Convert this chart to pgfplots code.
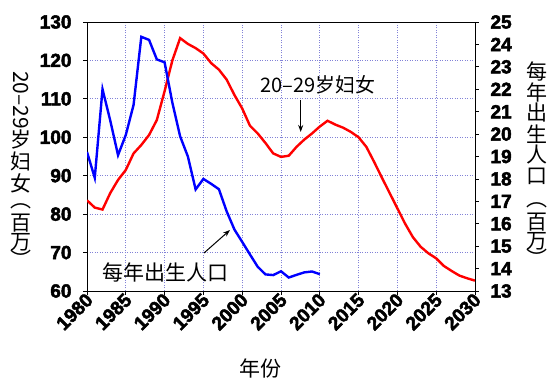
\documentclass[border=0pt]{standalone}
\usepackage{fontspec}
\setmainfont{Liberation Sans}
\newfontfamily\heavy{Liberation Sans}[BoldFeatures={FakeBold=2.6}]
\newfontfamily\cjk{Noto Sans CJK SC}
\usepackage{pgfplots}
\usepackage{pgfplotstable}
\pgfplotsset{compat=1.18}
\usetikzlibrary{arrows.meta}
\definecolor{gridc}{RGB}{130,130,215}

\pgfplotstableread{
year women
1980 83.6
1981 81.7
1982 81.2
1983 85.5
1984 88.9
1985 91.5
1986 95.8
1987 98.0
1988 100.6
1989 104.5
1990 112.0
1991 120.0
1992 125.8
1993 124.3
1994 123.2
1995 121.8
1996 119.3
1997 117.6
1998 115.0
1999 111.0
2000 107.5
2001 103.0
2002 101.0
2003 98.5
2004 95.8
2005 94.9
2006 95.2
2007 97.5
2008 99.4
2009 101.0
2010 102.8
2011 104.3
2012 103.3
2013 102.5
2014 101.4
2015 100.0
2016 97.5
2017 93.6
2018 89.5
2019 85.5
2020 81.5
2021 77.5
2022 74.0
2023 71.5
2024 69.8
2025 68.5
2026 66.5
2027 65.2
2028 64.0
2029 63.3
2030 62.7
}\women

\pgfplotstableread{
year births
1980 19.2
1981 18.05
1982 22.0
1983 20.6
1984 19.06
1985 19.96
1986 21.3
1987 24.34
1988 24.2
1989 23.33
1990 23.2
1991 21.4
1992 19.9
1993 19.0
1994 17.53
1995 18.0
1996 17.78
1997 17.54
1998 16.55
1999 15.74
2000 15.19
2001 14.63
2002 14.08
2003 13.74
2004 13.71
2005 13.88
2006 13.6
2007 13.72
2008 13.83
2009 13.87
2010 13.75
}\births

\pgfplotsset{
  common/.style={
    at={(87pt,94pt)}, anchor=south west, scale only axis,
    width=388pt, height=269pt,
    xmin=1980, xmax=2030,
    tick align=outside, major tick length=4pt,
    tick style={black, line width=0.8pt},
    axis line style={black, line width=0.8pt},
    /pgf/number format/assume math mode=true,
    /pgf/number format/1000 sep={},
    tick label style={font=\heavy\bfseries\fontsize{19}{19}\selectfont},
  }
}

\begin{document}
\begin{tikzpicture}[x=1pt,y=1pt]
\begin{axis}[common,
  ymin=60, ymax=130,
  xtick={1980,1985,...,2030}, ytick={60,70,...,130},
  xtick pos=left, ytick pos=left,
  grid=major,
  grid style={gridc, dash pattern=on 1pt off 1.5pt, line width=0.8pt},
  xticklabel style={rotate=45, anchor=east, xshift=4pt, yshift=-3pt},
  yticklabel style={xshift=-8pt},
]
\addplot[red, line width=2.4pt] table[x=year, y=women] {\women};
\end{axis}
\begin{axis}[common,
  ymin=13, ymax=25, ytick={13,14,...,25},
  axis x line=none, axis y line*=right,
  yticklabel style={xshift=8pt},
]
\addplot[blue, line width=2.4pt] table[x=year, y=births] {\births};
\end{axis}

% annotations
\node[font=\cjk\fontsize{20}{20}\selectfont, anchor=center] at (318,300) {20–29岁妇女};
\draw[-{Stealth[length=7pt,width=5pt]}, line width=1pt] (300.7,285) -- (300.7,253);
\node[font=\cjk\fontsize{21}{21}\selectfont, anchor=center] at (165,113) {每年出生人口};
\draw[-{Stealth[length=7pt,width=5pt]}, line width=1pt] (204,132) -- (230,155);

% x label
\node[font=\cjk\fontsize{21}{21}\selectfont] at (260,17) {年份};

% left y label (vertical)
\begin{scope}[every node/.style={font=\cjk\fontsize{21}{21}\selectfont, inner sep=0pt}]
\node[rotate=-90] at (21,285) {20–29};
\node at (21,246) {岁};
\node at (21,224) {妇};
\node at (21,202) {女};
\node at (21,179) {︵};
\node at (21,162) {百};
\node at (21,143) {万};
\node at (21,126) {︶};
% right y label
\node at (537,314) {每};
\node at (537,293) {年};
\node at (537,272) {出};
\node at (537,251) {生};
\node at (537,230) {人};
\node at (537,209) {口};
\node at (537,180) {︵};
\node at (537,163) {百};
\node at (537,144) {万};
\node at (537,127) {︶};
\end{scope}

\pgfresetboundingbox
\path[use as bounding box] (0,0) rectangle (560,385);
\end{tikzpicture}
\end{document}
